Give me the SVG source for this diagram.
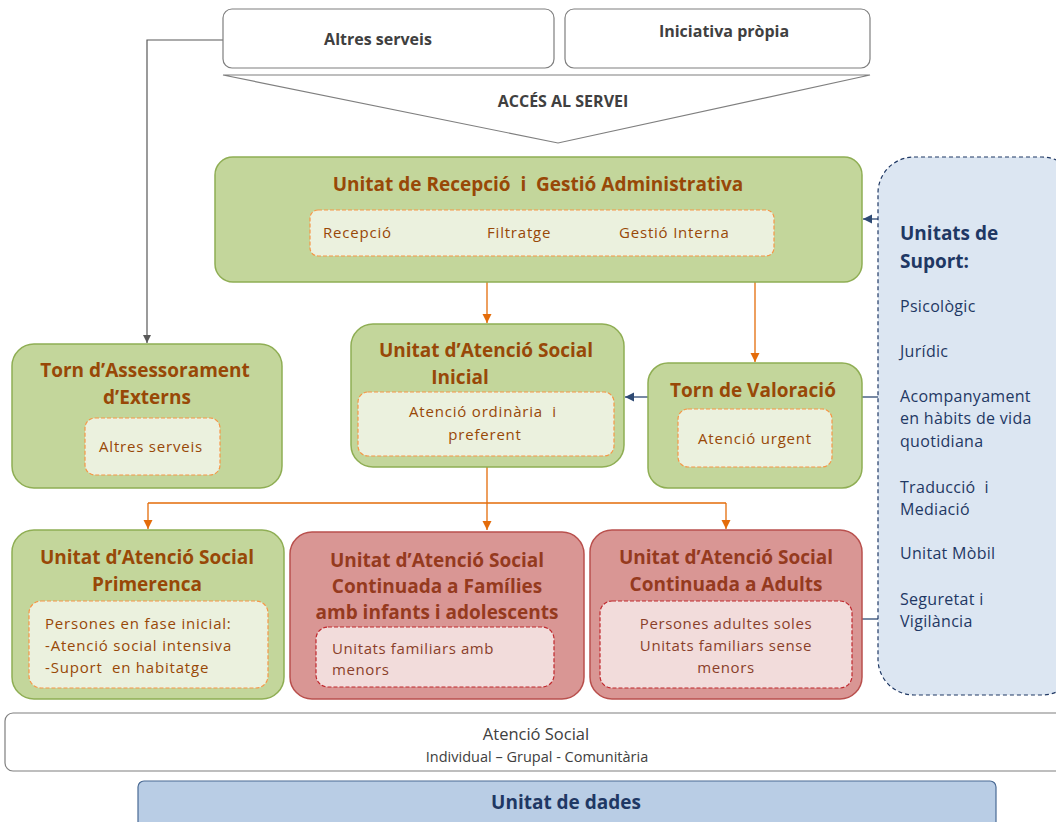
<svg xmlns="http://www.w3.org/2000/svg" width="1056" height="822" viewBox="0 0 1056 822" xml:space="preserve">
<defs>
<style>
text{font-family:"Open Sans","Liberation Sans",sans-serif;white-space:pre}
.top{fill:#fff;stroke:#7f7f7f;stroke-width:1.2}
.toptx{font-size:16px;font-weight:bold;fill:#404040;text-anchor:middle}
.g{fill:#c3d69b;stroke:#8fae54;stroke-width:1.5}
.gi{fill:#ebf1de;stroke:#f79646;stroke-width:1.2;stroke-dasharray:4 2}
.r{fill:#d99694;stroke:#b9504d;stroke-width:1.5}
.ri{fill:#f2dcdb;stroke:#c0282d;stroke-width:1.2;stroke-dasharray:4 2}
.t{font-size:19px;font-weight:bold;fill:#984807;text-anchor:middle}
.tr{font-size:19px;font-weight:bold;fill:#953a1e;text-anchor:middle}
.s{font-size:15px;fill:#984807;letter-spacing:0.8px}
.sr{font-size:15px;fill:#8a3f2a;letter-spacing:0.6px}
.c{text-anchor:middle}
.su{font-size:16px;fill:#1f3864;letter-spacing:0.3px}
.o{fill:none;stroke:#e46c0a;stroke-width:1.3}
.b{fill:none;stroke:#2e4a73;stroke-width:1.3}
.k{fill:none;stroke:#595959;stroke-width:1.2}
</style>
<marker id="ao" viewBox="0 0 10 10" refX="10" refY="5" markerWidth="7" markerHeight="7" orient="auto"><path d="M0,0 L10,5 L0,10 z" fill="#e46c0a"/></marker>
<marker id="ab" viewBox="0 0 10 10" refX="10" refY="5" markerWidth="7" markerHeight="7" orient="auto"><path d="M0,0 L10,5 L0,10 z" fill="#2e4a73"/></marker>
<marker id="ak" viewBox="0 0 10 10" refX="10" refY="5" markerWidth="7" markerHeight="7" orient="auto"><path d="M0,0 L10,5 L0,10 z" fill="#595959"/></marker>
</defs>
<rect width="1056" height="822" fill="#fff"/>

<g id="connectors">
<path class="k" d="M223,40 H147 V343" marker-end="url(#ak)"/>
<path class="o" d="M487,282 V323" marker-end="url(#ao)"/>
<path class="o" d="M755,282 V362" marker-end="url(#ao)"/>
<path class="b" d="M648,397 H625" marker-end="url(#ab)"/>
<path class="b" d="M878,397 H862"/>
<path class="b" d="M878,219 H863" marker-end="url(#ab)"/>
<path class="b" d="M878,619 H853" marker-end="url(#ab)"/>
<path class="o" d="M487,467 V503 M148,503 H726"/>
<path class="o" d="M148,503 V529" marker-end="url(#ao)"/>
<path class="o" d="M487,503 V530" marker-end="url(#ao)"/>
<path class="o" d="M726,503 V529" marker-end="url(#ao)"/>
</g>

<g id="altres">
<rect class="top" x="223" y="9" width="331" height="59" rx="9"/>
<text class="toptx" x="378" y="45">Altres serveis</text>
</g>
<g id="iniciativa">
<rect class="top" x="565" y="9" width="305" height="59" rx="9"/>
<text class="toptx" x="724" y="37">Iniciativa pròpia</text>
</g>
<g id="acces">
<path d="M223,75 H870 L558,143 Z" fill="#fff" stroke="#7f7f7f" stroke-width="1.2"/>
<text class="toptx" x="563" y="107" font-size="16.5">ACCÉS AL SERVEI</text>
</g>

<g id="recepcio">
<rect class="g" x="215" y="157" width="647" height="125" rx="18"/>
<text class="t" x="538" y="191">Unitat de Recepció  i  Gestió Administrativa</text>
<rect class="gi" x="310" y="210" width="464" height="46" rx="8"/>
<text class="s" x="323" y="238">Recepció</text>
<text class="s" x="487" y="238">Filtratge</text>
<text class="s" x="619" y="238">Gestió Interna</text>
</g>

<g id="assessorament">
<rect class="g" x="12" y="344" width="270" height="144" rx="22"/>
<text class="t" x="145" y="377">Torn d’Assessorament</text>
<text class="t" x="147" y="404">d’Externs</text>
<rect class="gi" x="85" y="418" width="135" height="57" rx="10"/>
<text class="s c" x="151" y="452">Altres serveis</text>
</g>

<g id="inicial">
<rect class="g" x="351" y="324" width="273" height="143" rx="22"/>
<text class="t" x="486" y="357">Unitat d’Atenció Social</text>
<text class="t" x="460" y="384">Inicial</text>
<rect class="gi" x="358" y="392" width="256" height="64" rx="10"/>
<text class="s c" x="483" y="417">Atenció ordinària  i</text>
<text class="s c" x="485" y="440">preferent</text>
</g>

<g id="valoracio">
<rect class="g" x="648" y="363" width="214" height="125" rx="20"/>
<text class="t" x="753" y="397">Torn de Valoració</text>
<rect class="gi" x="678" y="409" width="154" height="58" rx="10"/>
<text class="s c" x="755" y="444">Atenció urgent</text>
</g>

<g id="suport">
<rect x="878" y="157" width="200" height="538" rx="36" fill="#dce6f2" stroke="#1f3864" stroke-width="1.2" stroke-dasharray="4 3"/>
<text x="900" y="240" font-size="19" font-weight="bold" fill="#1f3864">Unitats de</text>
<text x="900" y="268" font-size="19" font-weight="bold" fill="#1f3864">Suport:</text>
<text class="su" x="900" y="312">Psicològic</text>
<text class="su" x="900" y="357">Jurídic</text>
<text class="su" x="900" y="402">Acompanyament</text>
<text class="su" x="900" y="424">en hàbits de vida</text>
<text class="su" x="900" y="447">quotidiana</text>
<text class="su" x="900" y="493">Traducció  i</text>
<text class="su" x="900" y="515">Mediació</text>
<text class="su" x="900" y="559">Unitat Mòbil</text>
<text class="su" x="900" y="605">Seguretat i</text>
<text class="su" x="900" y="627">Vigilància</text>
</g>

<g id="primerenca">
<rect class="g" x="12" y="530" width="272" height="169" rx="22"/>
<text class="t" x="147" y="564">Unitat d’Atenció Social</text>
<text class="t" x="147" y="591">Primerenca</text>
<rect class="gi" x="29" y="601" width="239" height="87" rx="12"/>
<text class="s" x="45" y="629" letter-spacing="1.6">Persones en fase inicial:</text>
<text class="s" x="45" y="651" letter-spacing="1">-Atenció social intensiva</text>
<text class="s" x="45" y="673" letter-spacing="1">-Suport  en habitatge</text>
</g>

<g id="families">
<rect class="r" x="290" y="532" width="294" height="167" rx="22"/>
<text class="tr" x="437" y="567">Unitat d’Atenció Social</text>
<text class="tr" x="437" y="593">Continuada a Famílies</text>
<text class="tr" x="437" y="619">amb infants i adolescents</text>
<rect class="ri" x="316" y="627" width="238" height="60" rx="12"/>
<text class="sr" x="332" y="654" font-size="14">Unitats familiars amb</text>
<text class="sr" x="332" y="675" font-size="14">menors</text>
</g>

<g id="adults">
<rect class="r" x="590" y="530" width="272" height="169" rx="22"/>
<text class="tr" x="726" y="564">Unitat d’Atenció Social</text>
<text class="tr" x="726" y="591">Continuada a Adults</text>
<rect class="ri" x="600" y="601" width="252" height="87" rx="12"/>
<text class="sr c" x="726" y="629" letter-spacing="1">Persones adultes soles</text>
<text class="sr c" x="726" y="651" letter-spacing="1">Unitats familiars sense</text>
<text class="sr c" x="726" y="673" letter-spacing="1">menors</text>
</g>

<g id="atencio">
<rect x="5" y="713" width="1060" height="58" rx="8" fill="#fff" stroke="#7f7f7f" stroke-width="1.2"/>
<text x="536" y="740" font-size="16.5" fill="#404040" text-anchor="middle">Atenció Social</text>
<text x="537" y="762" font-size="14.5" fill="#404040" text-anchor="middle">Individual – Grupal - Comunitària</text>
</g>

<g id="dades">
<rect x="138" y="781" width="858" height="50" rx="6" fill="#b9cde5" stroke="#4a6a94" stroke-width="1.2"/>
<text x="566" y="809" font-size="19" font-weight="bold" fill="#1f3864" text-anchor="middle">Unitat de dades</text>
</g>
</svg>
